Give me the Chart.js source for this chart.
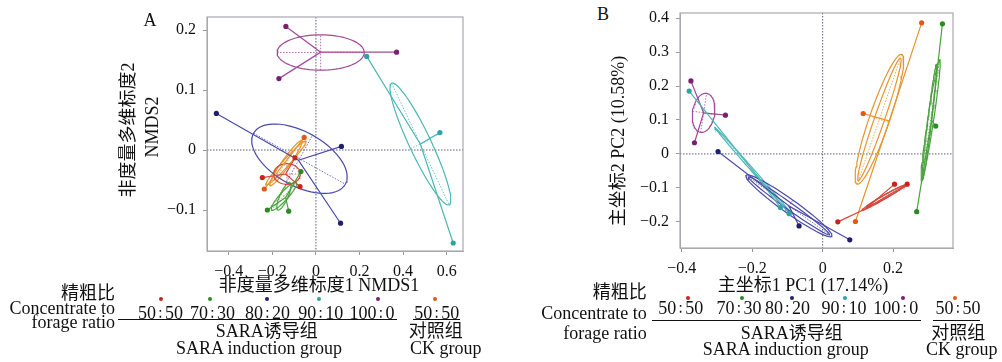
<!DOCTYPE html>
<html>
<head>
<meta charset="utf-8">
<script src="https://cdn.jsdelivr.net/npm/chart.js@4.4.1/dist/chart.umd.min.js"></script>
<style>
  body { margin: 0; width: 1002px; height: 362px; background: #fff; position: relative; overflow: hidden;
         font-family: "Liberation Serif", "Noto Sans CJK SC", serif; color: #111; }
  canvas { position: absolute; }
  .t { position: absolute; white-space: nowrap; font-size: 18px; line-height: 1; transform: translate(-50%, -50%); }
  .r { transform: translate(-100%, -50%); }
  .rot { transform: translate(-50%, -50%) rotate(-90deg); }
  .rule { position: absolute; height: 0; border-top: 1.4px solid #111; }
  .dot { position: absolute; width: 4px; height: 4px; border-radius: 50%; transform: translate(-50%, -50%); }
  .colon { font-family: "DejaVu Serif", "DejaVu Sans", serif; font-size: 15px; padding: 0 2.5px; }
</style>
</head>
<body>
<canvas id="chartA" width="330" height="300" style="left:150px;top:-20px"></canvas>
<canvas id="chartB" width="360" height="300" style="left:620px;top:-20px"></canvas>
<div id="labels"></div>
<script>
// groups: 0..4 = SARA induction 50:50, 70:30, 80:20, 90:10, 100:0 ; 5 = CK 50:50
const groupLabels = ['50∶50', '70∶30', '80∶20', '90∶10', '100∶0', '50∶50'];
const lineCol = ['#d4473c', '#4ba23f', '#4a4aa8', '#4db6b6', '#a24a98', '#e3952f'];
const dotCol  = ['#c8231c', '#2b8a24', '#1f1f6e', '#2fa3a3', '#7b1f70', '#e2581c'];

// ---- panel A : NMDS ----
const nmdsX = [
  [-0.246, -0.096, -0.073],
  [-0.069, -0.223, -0.125],
  [-0.457, 0.117, 0.113],
  [0.233, 0.569, 0.630],
  [-0.138, -0.170, 0.370],
  [-0.054, -0.237]
];
const nmdsY = [
  [-0.046, -0.013, -0.061],
  [-0.036, -0.100, -0.102],
  [0.061, 0.006, -0.122],
  [0.156, 0.029, -0.155],
  [0.206, 0.119, 0.163],
  [0.021, -0.065]
];
const nmdsCentre = [[-0.139, -0.040], [-0.139, -0.079], [-0.080, -0.017], [0.479, 0.010], [0.022, 0.163], [-0.145, -0.022]];
// [group, cx, cy, semi-axis u (dx,dy), semi-axis v (dx,dy)]
const nmdsEllipses = [
  [0, -0.133, -0.040, 0.061, 0, 0, 0.0172],
  [1, -0.147, -0.077, 0.057, 0.023, 0.014, -0.0045],
  [1, -0.147, -0.077, 0.028, 0.023, 0.017, -0.0026],
  [2, -0.0757, -0.0145, 0.2106, -0.0425, 0.0601, 0.0393],
  [3, 0.4794, 0.010, 0.132, -0.1013, 0.0452, 0.0078],
  [4, 0.0216, 0.1625, 0.200, 0, 0, 0.0295],
  [5, -0.1376, -0.0217, 0.0734, 0.0375, 0.0147, -0.004],
  [5, -0.1376, -0.0217, 0.0917, 0.0367, 0.0115, -0.0038]
];
const nmdsXTicks = [-0.4, -0.2, 0, 0.2, 0.4, 0.6];
const nmdsYTicks = [-0.1, 0, 0.1, 0.2];

// ---- panel B : PCoA ----
const pcoX = [
  [0.043, 0.204, 0.240],
  [0.340, 0.321, 0.267],
  [-0.297, -0.067, 0.077],
  [-0.379, -0.120, -0.095],
  [-0.374, -0.276, -0.364],
  [0.281, 0.115, 0.093]
];
const pcoY = [
  [-0.200, -0.089, -0.089],
  [0.383, 0.082, -0.170],
  [0.007, -0.212, -0.253],
  [0.185, -0.158, -0.176],
  [0.215, 0.114, 0.033],
  [0.386, 0.119, -0.199]
];
const pcoCentre = [[0.121, -0.162], [0.309, 0.099], [-0.096, -0.153], [-0.198, -0.049], [-0.338, 0.121], [0.189, 0.097]];
const pcoEllipses = [
  [0, 0.1718, -0.1294, 0.0606, 0.0368, 0.0025, -0.0046],
  [0, 0.1803, -0.1235, 0.0563, 0.0324, 0.0025, -0.0046],
  [1, 0.3065, 0.100, 0.0259, 0.1788, 0.0084, -0.0013],
  [1, 0.3035, 0.095, 0.0197, 0.1706, 0.0056, -0.0009],
  [2, -0.0958, -0.1529, 0.1217, -0.0897, 0.0114, 0.0168],
  [2, -0.0958, -0.1529, 0.115, -0.085, 0.0057, 0.0084],
  [3, -0.198, -0.049, 0.1082, -0.127, 0.003, 0.0027],
  [4, -0.338, 0.121, 0.0085, 0.0574, 0.031, -0.005],
  [5, 0.1611, 0.1021, 0.0634, 0.1912, 0.0272, -0.0098],
  [5, 0.1611, 0.1021, 0.060, 0.180, 0.0136, -0.0049]
];
const pcoXTicks = [-0.4, -0.2, 0, 0.2];
const pcoYTicks = [-0.2, -0.1, 0, 0.1, 0.2, 0.3, 0.4];

const serif = '"Liberation Serif", "DejaVu Serif", serif';

function ring(e) {
  const pts = [];
  for (let i = 0; i <= 72; i++) {
    const t = 2 * Math.PI * i / 72;
    pts.push({ x: e[1] + e[3] * Math.cos(t) + e[5] * Math.sin(t), y: e[2] + e[4] * Math.cos(t) + e[6] * Math.sin(t) });
  }
  return pts;
}

function panelSets(xs, ys, centres, ells) {
  const sets = [];
  const seen = {};
  ells.forEach(e => {
    const g = e[0];
    sets.push({ data: ring(e), showLine: true, borderColor: lineCol[g], borderWidth: 1.2, pointRadius: 0, order: 2 });
    if (!seen[g]) {
      seen[g] = true;
      sets.push({ data: [{ x: e[1] - e[3], y: e[2] - e[4] }, { x: e[1] + e[3], y: e[2] + e[4] }],
        showLine: true, borderColor: lineCol[g], borderWidth: 0.8, borderDash: [1.5, 1.5], pointRadius: 0, order: 3 });
      sets.push({ data: [{ x: e[1] - e[5], y: e[2] - e[6] }, { x: e[1] + e[5], y: e[2] + e[6] }],
        showLine: true, borderColor: lineCol[g], borderWidth: 0.8, borderDash: [1.5, 1.5], pointRadius: 0, order: 3 });
    }
  });
  xs.forEach((gx, g) => {
    const c = centres[g];
    const spokes = [];
    gx.forEach((x, i) => { spokes.push({ x: c[0], y: c[1] }, { x: x, y: ys[g][i] }); });
    sets.push({ data: spokes, showLine: true, borderColor: lineCol[g], borderWidth: 1.2, pointRadius: 0, order: 1 });
    sets.push({ data: gx.map((x, i) => ({ x: x, y: ys[g][i] })), showLine: false, pointRadius: 2.6,
      pointBackgroundColor: dotCol[g], pointBorderWidth: 0, order: 0 });
  });
  return sets;
}

function fmt(v) {
  if (Math.abs(v) < 1e-9) return '0';
  return (v < 0 ? '−' : '') + Math.abs(v).toFixed(1);
}

const framePlugin = {
  id: 'frame',
  beforeDatasetsDraw(chart) {
    const { ctx, chartArea: a, scales } = chart;
    const x0 = scales.x.getPixelForValue(0), y0 = scales.y.getPixelForValue(0);
    ctx.save();
    ctx.strokeStyle = '#5c5c80';
    ctx.lineWidth = 1;
    ctx.setLineDash([1.5, 1.5]);
    ctx.beginPath();
    ctx.moveTo(x0, a.top); ctx.lineTo(x0, a.bottom);
    ctx.moveTo(a.left, y0); ctx.lineTo(a.right, y0);
    ctx.stroke();
    ctx.restore();
  },
  afterDraw(chart) {
    const { ctx, chartArea: a } = chart;
    ctx.save();
    ctx.strokeStyle = '#a8a8b0';
    ctx.lineWidth = 1.2;
    ctx.strokeRect(a.left, a.top, a.right - a.left, a.bottom - a.top);
    ctx.restore();
  }
};

function axis(min, max, ticks, size) {
  return {
    type: 'linear', min: min, max: max,
    afterBuildTicks: s => { s.ticks = ticks.map(v => ({ value: v })); },
    afterFit: s => { if (s.isHorizontal()) s.height = size; else s.width = size; },
    grid: { drawOnChartArea: false, drawTicks: true, tickLength: 4, color: '#999' },
    border: { color: '#a8a8b0' },
    ticks: { font: { family: serif, size: 16 }, color: '#111', padding: 7, autoSkip: false, maxRotation: 0,
      callback: v => fmt(v) }
  };
}

function makeChart(id, sets, xs, ys, pad) {
  return new Chart(document.getElementById(id), {
    type: 'scatter',
    data: { datasets: sets },
    options: {
      responsive: false, animation: false, devicePixelRatio: 1,
      layout: { padding: pad },
      plugins: { legend: { display: false }, tooltip: { enabled: false } },
      scales: { x: xs, y: ys }
    },
    plugins: [framePlugin]
  });
}

makeChart('chartA', panelSets(nmdsX, nmdsY, nmdsCentre, nmdsEllipses),
  axis(-0.5, 0.675, nmdsXTicks, 29), axis(-0.1683, 0.2217, nmdsYTicks, 57),
  { top: 37, right: 17, left: 0, bottom: 0 });
makeChart('chartB', panelSets(pcoX, pcoY, pcoCentre, pcoEllipses),
  axis(-0.405, 0.37, pcoXTicks, 32), axis(-0.277, 0.415, pcoYTicks, 60),
  { top: 33, right: 27, left: 0, bottom: 0 });

// ---- text, titles and the group key below each panel ----
const box = document.getElementById('labels');
function text(str, x, y, cls) {
  const d = document.createElement('div');
  d.className = 't' + (cls ? ' ' + cls : '');
  d.textContent = str;
  d.style.left = x + 'px'; d.style.top = y + 'px';
  box.appendChild(d);
  return d;
}
function ratio(str, x, y) {
  const d = text('', x, y);
  const parts = str.split('∶');
  d.append(parts[0]);
  const s = document.createElement('span');
  s.className = 'colon';
  s.textContent = '∶';
  d.appendChild(s);
  d.append(parts[1]);
}
function rule(x1, x2, y) {
  const d = document.createElement('div');
  d.className = 'rule';
  d.style.left = x1 + 'px'; d.style.width = (x2 - x1) + 'px'; d.style.top = y + 'px';
  box.appendChild(d);
}
function dot(x, y, c) {
  const d = document.createElement('div');
  d.className = 'dot';
  d.style.left = x + 'px'; d.style.top = y + 'px'; d.style.background = c;
  box.appendChild(d);
}

text('A', 150, 20);
text('B', 603, 14);
text('非度量多维标度2', 128, 130, 'rot');
text('NMDS2', 152, 127, 'rot');
text('非度量多维标度1 NMDS1', 319, 285);
text('主坐标2 PC2 (10.58%)', 618, 141, 'rot');
text('主坐标1 PC1 (17.14%)', 803, 285);

function key(o) {
  text('精粗比', o.right, o.y1, 'r');
  text('Concentrate to', o.right, o.y2, 'r');
  text('forage ratio', o.right, o.y3, 'r');
  groupLabels.forEach((lab, g) => {
    dot(o.dots[g], o.dotY, dotCol[g]);
    ratio(lab, o.labs[g], o.labY);
  });
  rule(o.rule1[0], o.rule1[1], o.ruleY);
  rule(o.rule2[0], o.rule2[1], o.ruleY);
  text('SARA诱导组', o.sara[0], o.cnY);
  text('SARA induction group', o.sara[1], o.enY);
  text('对照组', o.ck[0], o.cnY);
  text('CK group', o.ck[1], o.enY);
}
key({ right: 115, y1: 293, y2: 308, y3: 322, dotY: 299, labY: 313,
  dots: [160.7, 210, 266.7, 319.3, 378.3, 435], labs: [160.5, 212.5, 267.5, 320.8, 372, 436.7],
  ruleY: 319, rule1: [118, 397], rule2: [413, 460], cnY: 331, enY: 348,
  sara: [266.7, 259], ck: [435.8, 445.8] });
key({ right: 646.7, y1: 292, y2: 313, y3: 333, dotY: 298, labY: 308,
  dots: [687.7, 742.3, 792.3, 845, 902.7, 955], labs: [680.8, 739, 787.5, 844, 895.8, 958],
  ruleY: 319.5, rule1: [651.7, 920.7], rule2: [933.3, 980], cnY: 333, enY: 348.5,
  sara: [791.7, 785.8], ck: [958.3, 961.7] });
</script>
</body>
</html>
